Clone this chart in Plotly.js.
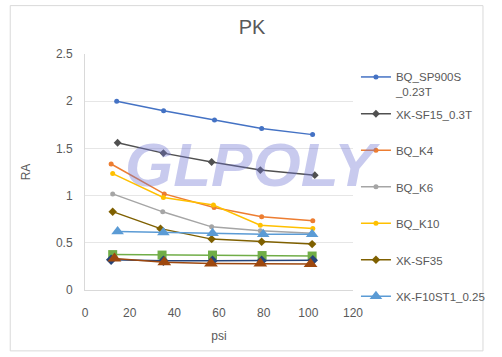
<!DOCTYPE html>
<html>
<head>
<meta charset="utf-8">
<script src="https://cdn.plot.ly/plotly-3.0.1.min.js"></script>
<style>html,body{margin:0;padding:0;background:#fff;}#chart{width:502px;height:357px;}</style>
</head>
<body>
<div id="chart"></div>
<script>
// Series names
const names = ["BQ_SP900S<br>_0.23T", "XK-SF15_0.3T", "BQ_K4", "BQ_K6", "BQ_K10", "XK-SF35", "XK-F10ST1_0.25", "Series8", "Series9", "Series10"];

// x values (psi)
const xSP900S = [14.2, 35.2, 58, 79.1, 101.9];
const xSF15   = [14.6, 35.1, 56.7, 78.5, 102.9];
const xK4     = [11.7, 35.5, 57.8, 79.1, 102];
const xK6     = [12.4, 34.8, 56.7, 78.5, 101.7];
const xK10    = [12.4, 35.1, 57.5, 78.5, 102];
const xSF35   = [12.4, 33.8, 56.7, 79.1, 101.7];
const xF10ST1 = [14.6, 35.1, 57.1, 79.8, 101.7];
const xS8     = [12.4, 34.5, 57.1, 79.3, 101.7];
const xS9     = [11.7, 35.1, 57.1, 79.1, 102];
const xS10    = [13.2, 35.5, 56.4, 78.5, 101];

// y values (RA)
const ySP900S = [2.0, 1.90, 1.80, 1.71, 1.646];
const ySF15   = [1.56, 1.45, 1.356, 1.27, 1.216];
const yK4     = [1.335, 1.018, 0.874, 0.775, 0.733];
const yK6     = [1.018, 0.828, 0.669, 0.627, 0.60];
const yK10    = [1.233, 0.98, 0.90, 0.687, 0.652];
const ySF35   = [0.83, 0.65, 0.539, 0.511, 0.486];
const yF10ST1 = [0.62, 0.61, 0.60, 0.59, 0.59];
const yS8     = [0.375, 0.37, 0.37, 0.365, 0.36];
const yS9     = [0.32, 0.31, 0.31, 0.31, 0.315];
const yS10    = [0.335, 0.293, 0.28, 0.28, 0.275];

const xs = [xSP900S, xSF15, xK4, xK6, xK10, xSF35, xF10ST1, xS8, xS9, xS10];
const ys = [ySP900S, ySF15, yK4, yK6, yK10, ySF35, yF10ST1, yS8, yS9, yS10];
const colors = ["#4472C4", "#505050", "#ED7D31", "#A5A5A5", "#FFC000", "#7F6000", "#5B9BD5", "#70AD47", "#264478", "#9E480E"];
const symbols = ["circle", "diamond", "circle", "circle", "circle", "diamond", "triangle-up", "square", "diamond", "triangle-up"];
const sizes = [5, 6, 5, 5, 5, 6.5, 11, 9, 8, 12];
const inLegend = [true, true, true, true, true, true, true, false, false, false];
const legendRef = ["legend2", "legend", "legend", "legend", "legend", "legend", "legend", "legend", "legend", "legend"];

const traces = names.map((n, i) => ({
  type: "scatter", mode: "lines+markers", name: n,
  x: xs[i], y: ys[i],
  legend: legendRef[i],
  legendgroup: "g" + i, showlegend: inLegend[i],
  line: {color: colors[i], width: 1.5},
  marker: {color: colors[i], symbol: symbols[i], size: sizes[i]}
}));

const font = "Liberation Sans, Arial, sans-serif";
const legFont = {family: font, size: 11.5, color: "#595959"};
const layout = {
  width: 502, height: 357,
  paper_bgcolor: "#fff", plot_bgcolor: "#fff",
  margin: {l: 84.5, r: 139.7, t: 53.5, b: 67, pad: 0},
  font: {family: font, size: 12, color: "#595959"},
  title: {text: "PK", x: 0.502, xref: "container", y: 0.924, yref: "container", yanchor: "middle", xanchor: "center",
          font: {family: font, size: 20, color: "#595959"}},
  xaxis: {range: [0, 120], dtick: 20, tick0: 0, showgrid: false, zeroline: false,
          showline: true, linecolor: "#d9d9d9", linewidth: 1,
          ticks: "outside", ticklen: 12, tickcolor: "rgba(0,0,0,0)",
          tickfont: {family: font, size: 12, color: "#595959"},
          title: {text: "psi", standoff: 12, font: {family: font, size: 12, color: "#595959"}},
          automargin: false, fixedrange: true},
  yaxis: {range: [0, 2.5], dtick: 0.5, tick0: 0, showgrid: true, gridcolor: "#e6e6e6", gridwidth: 1,
          zeroline: false, showline: true, linecolor: "#d9d9d9", linewidth: 1,
          ticks: "outside", ticklen: 9, tickcolor: "rgba(0,0,0,0)",
          tickfont: {family: font, size: 12, color: "#595959"},
          title: {text: "RA", standoff: 22, font: {family: font, size: 12, color: "#595959"}},
          automargin: false, fixedrange: true},
  legend: {x: 1.011, xanchor: "left", y: 0.806, yanchor: "top", valign: "top",
           bgcolor: "rgba(0,0,0,0)", traceorder: "grouped", tracegroupgap: 17.5,
           maxheight: 1, font: legFont},
  legend2: {x: 1.011, xanchor: "left", y: 0.962, yanchor: "top", valign: "top",
           bgcolor: "rgba(0,0,0,0)", font: legFont},
  showlegend: true,
  shapes: [{type: "rect", xref: "paper", yref: "paper", x0: -0.279, x1: 1.485, y0: -0.258, y1: 1.205,
            line: {color: "#d9d9d9", width: 1}, fillcolor: "rgba(0,0,0,0)", layer: "below"}],
  annotations: [{text: "<b><i>GLPOLY</i></b>", xref: "paper", yref: "paper", x: 0.626, y: 0.53,
                 xanchor: "center", yanchor: "middle", showarrow: false,
                 font: {family: font, size: 62, color: "rgba(110,115,210,0.38)"}}]
};

Plotly.newPlot("chart", traces, layout, {displayModeBar: false, staticPlot: true});
</script>
</body>
</html>
